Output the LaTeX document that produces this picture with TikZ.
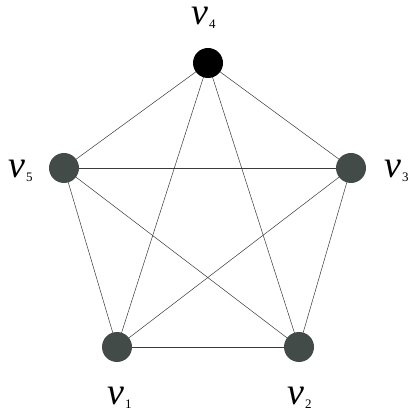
\documentclass[tikz,border=0pt]{standalone}
\usepackage{fontspec}
\setmainfont{Liberation Serif}
\definecolor{vgray}{HTML}{434B48}
\definecolor{egray}{HTML}{3A3A3A}
\tikzset{
  vert/.style={circle,fill=vgray,draw=none,minimum size=30pt,inner sep=0pt},
  vtop/.style={circle,fill=black,draw=none,minimum size=30pt,inner sep=0pt},
  edge/.style={draw=egray,line width=0.5pt},
  lab/.style={inner sep=0pt,text=black,anchor=base west}
}
\newcommand{\vlab}[1]{{\fontsize{38}{38}\selectfont\itshape v}\kern1pt{\fontsize{13}{13}\selectfont\raisebox{-4pt}{#1}}}
\begin{document}
\begin{tikzpicture}[x=1pt,y=1pt]
\useasboundingbox (0,0) rectangle (412,412);
\fill[white] (0,0) rectangle (412,412);
\coordinate (c4) at (208,349);
\coordinate (c5) at (64,244);
\coordinate (c3) at (351,244);
\coordinate (c1) at (117,65);
\coordinate (c2) at (299,65);
\foreach \a/\b in {c4/c5,c4/c3,c4/c1,c4/c2,c5/c3,c5/c1,c5/c2,c3/c1,c3/c2,c1/c2}
  \draw[edge] (\a) -- (\b);
\node[vtop] (v4) at (c4) {};
\node[vert] (v5) at (c5) {};
\node[vert] (v3) at (c3) {};
\node[vert] (v1) at (c1) {};
\node[vert] (v2) at (c2) {};
\node[lab] (l4) at (191,387) {\vlab{4}};
\node[lab] (l5) at (8,234) {\vlab{5}};
\node[lab] (l3) at (384,234) {\vlab{3}};
\node[lab] (l1) at (107,7) {\vlab{1}};
\node[lab] (l2) at (287,7) {\vlab{2}};
\end{tikzpicture}
\end{document}
